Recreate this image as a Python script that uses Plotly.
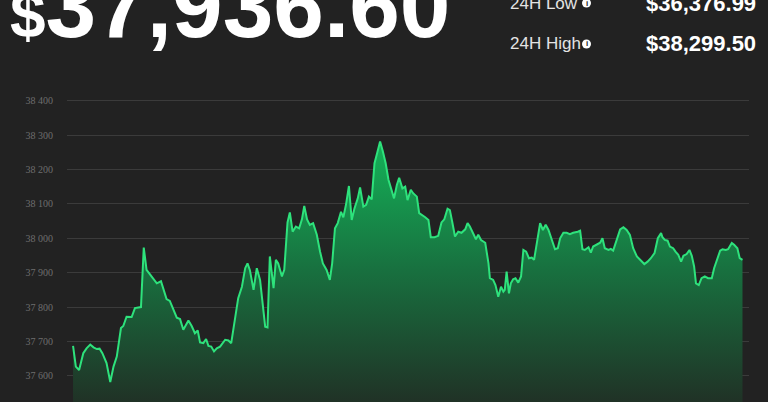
import plotly.graph_objects as go

# Time in minutes since start of the 24h window
minutes = [0, 6, 13, 22, 29, 37, 44, 51, 57, 63, 72, 80, 87, 94, 103, 108, 115, 126, 133, 146,
           152, 158, 165, 173, 180, 189, 196, 201, 208, 216, 223, 230, 237, 248, 255, 262, 268, 273, 280, 286,
           291, 297, 303, 309, 316, 327, 334, 340, 347, 355, 363, 370, 375, 380, 388, 395, 402, 409, 413, 418,
           423, 431, 436, 441, 449, 454, 461, 466, 472, 479, 486, 492, 497, 503, 509, 516, 524, 531, 537, 545,
           552, 557, 563, 569, 576, 581, 587, 593, 599, 605, 612, 617, 624, 630, 636, 642, 648, 654, 660, 666,
           672, 678, 683, 690, 696, 701, 708, 714, 719, 726, 731, 739, 744, 751, 757, 764, 769, 777, 785, 792,
           798, 805, 810, 815, 821, 828, 835, 843, 848, 853, 860, 866, 871, 877, 886, 893, 896, 903, 908, 914,
           920, 925, 928, 932, 937, 941, 946, 951, 957, 963, 968, 974, 980, 986, 991, 999, 1004, 1010, 1016, 1022,
           1029, 1036, 1042, 1047, 1054, 1061, 1068, 1075, 1085, 1090, 1095, 1100, 1108, 1113, 1118, 1126, 1133, 1138, 1143, 1151,
           1156, 1161, 1169, 1176, 1183, 1190, 1197, 1204, 1212, 1219, 1228, 1235, 1242, 1250, 1257, 1264, 1267, 1272, 1278, 1283,
           1290, 1295, 1301, 1307, 1312, 1319, 1325, 1330, 1335, 1339, 1345, 1351, 1358, 1365, 1373, 1378, 1386, 1391, 1396, 1403,
           1408, 1416, 1421, 1428, 1433, 1439]

prices = [37687, 37627, 37617, 37666, 37680, 37691, 37683, 37678, 37679, 37666, 37637, 37582, 37627, 37656, 37739, 37745, 37772, 37771, 37797, 37800,
          37973, 37908, 37896, 37881, 37869, 37875, 37845, 37823, 37818, 37794, 37769, 37765, 37734, 37761, 37745, 37724, 37732, 37697, 37695, 37707,
          37687, 37685, 37671, 37680, 37685, 37705, 37703, 37695, 37763, 37826, 37859, 37913, 37927, 37908, 37850, 37913, 37879, 37801, 37743, 37741,
          37947, 37855, 37937, 37927, 37889, 37908, 38046, 38075, 38019, 38034, 38029, 38055, 38094, 38055, 38039, 38044, 38010, 37961, 37927, 37908,
          37879, 37927, 38029, 38044, 38077, 38061, 38100, 38152, 38053, 38087, 38116, 38148, 38092, 38097, 38121, 38113, 38218, 38249, 38281, 38252,
          38218, 38170, 38145, 38116, 38155, 38176, 38145, 38150, 38111, 38141, 38131, 38121, 38073, 38065, 38061, 38053, 38003, 38003, 38007, 38046,
          38055, 38086, 38082, 38048, 38005, 38019, 38016, 38026, 38044, 38034, 38015, 37997, 38010, 37995, 37987, 37927, 37884, 37879, 37864, 37830,
          37859, 37845, 37850, 37903, 37840, 37869, 37881, 37884, 37871, 37889, 37966, 37961, 37942, 37944, 37937, 38005, 38044, 38024, 38039, 38024,
          37995, 37968, 37971, 38000, 38016, 38016, 38012, 38016, 38019, 38022, 37968, 37966, 37974, 37958, 37976, 37981, 37987, 38000, 37971, 37966,
          37969, 37964, 38000, 38026, 38032, 38024, 38010, 37971, 37947, 37937, 37925, 37932, 37942, 37957, 38000, 38015, 38003, 37995, 37993, 37976,
          37971, 37961, 37952, 37932, 37949, 37954, 37966, 37949, 37918, 37869, 37864, 37884, 37889, 37884, 37884, 37913, 37942, 37964, 37968, 37966,
          37968, 37986, 37981, 37971, 37942, 37937]

y_ticks = [37600, 37700, 37800, 37900, 38000, 38100, 38200, 38300, 38400]

price_text = "37,936.60"
low_label = "24H Low"
low_value = "$36,376.99"
high_label = "24H High"
high_value = "$38,299.50"

W, H = 768, 402
BG = "#222222"


def px(x):
    return x / W


def py(y):
    return 1 - y / H


fig = go.Figure()
fig.add_trace(go.Scatter(
    x=minutes, y=prices, mode="lines",
    line=dict(color="#2ee27c", width=2),
    fill="tozeroy",
    fillgradient=dict(type="vertical", start=37524, stop=38290,
                      colorscale=[[0, "rgb(32,50,38)"], [0.5, "rgb(24,112,63)"], [1, "rgb(20,180,89)"]]),
    hoverinfo="skip", showlegend=False,
))

fig.update_layout(
    width=W, height=H,
    margin=dict(l=0, r=0, t=0, b=0),
    paper_bgcolor=BG, plot_bgcolor=BG,
    separators=". ",
    xaxis=dict(domain=[px(67), px(749)], range=[-13, 1453], showgrid=False,
               zeroline=False, showticklabels=False, showline=False, fixedrange=True),
    yaxis=dict(domain=[0, py(90)], range=[37524, 38431], tickvals=y_ticks,
               tickformat=",d", showgrid=True, gridcolor="#3b3b3b", gridwidth=1,
               zeroline=False, showline=False, ticks="", ticklabelstandoff=13,
               tickfont=dict(family="Liberation Serif", size=10, color="#6e6e6e")),
    font=dict(family="Liberation Sans"),
)

annotations = [
    dict(x=px(8), y=py(5.5), xref="paper", yref="paper", xanchor="left", yanchor="middle",
         text="<span style='font-size:64px'>$</span>" + price_text, showarrow=False,
         font=dict(family="Liberation Sans", size=91, color="#ffffff", weight="bold")),
    dict(x=px(508), y=py(3), xref="paper", yref="paper", xanchor="left", yanchor="middle",
         text=low_label, showarrow=False, font=dict(size=17, color="#e4e4e4")),
    dict(x=px(508), y=py(44), xref="paper", yref="paper", xanchor="left", yanchor="middle",
         text=high_label, showarrow=False, font=dict(size=17, color="#e4e4e4")),
    dict(x=px(758), y=py(3), xref="paper", yref="paper", xanchor="right", yanchor="middle",
         text=low_value, showarrow=False, font=dict(size=22, color="#ffffff", weight="bold")),
    dict(x=px(758), y=py(44), xref="paper", yref="paper", xanchor="right", yanchor="middle",
         text=high_value, showarrow=False, font=dict(size=22, color="#ffffff", weight="bold")),
]
shapes = []
for cy in (3, 44):
    shapes.append(dict(type="circle", xref="paper", yref="paper",
                       x0=px(582), x1=px(591), y0=py(cy - 4.5), y1=py(cy + 4.5),
                       fillcolor="#ffffff", line=dict(width=0)))
    annotations.append(dict(x=px(586.5), y=py(cy), xref="paper", yref="paper",
                            xanchor="center", yanchor="middle", text="i", showarrow=False,
                            font=dict(size=8, color=BG, weight="bold")))

fig.update_layout(annotations=annotations, shapes=shapes)
fig.write_html("out.html",
               config={"displayModeBar": False, "staticPlot": True},
               post_script="document.body.style.margin='0';document.body.style.overflow='hidden';")
